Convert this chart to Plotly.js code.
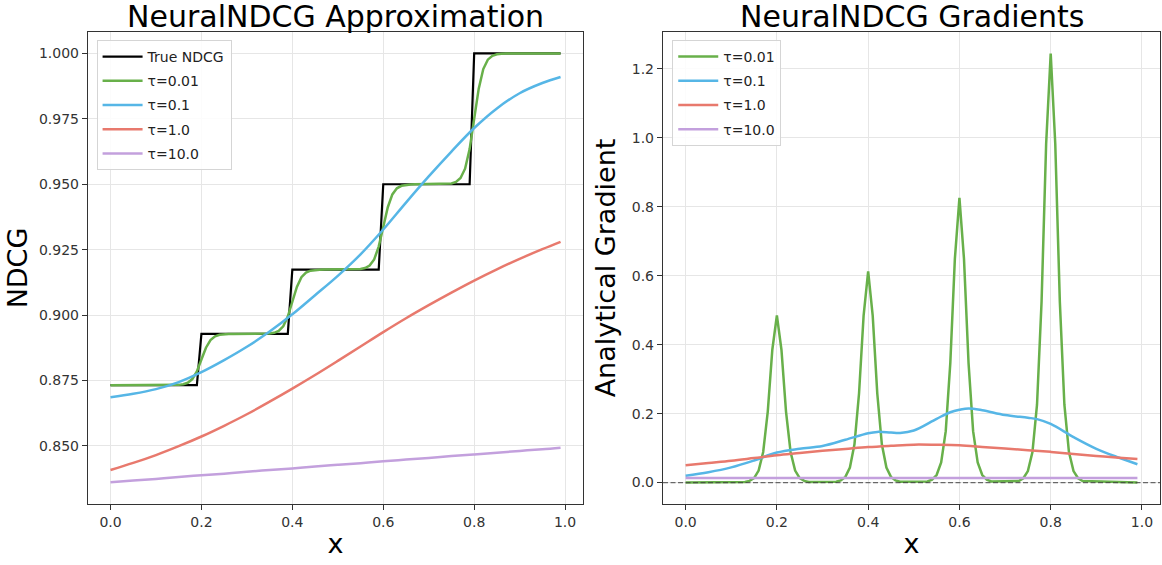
<!DOCTYPE html>
<html>
<head>
<meta charset="utf-8">
<script src="https://cdn.plot.ly/plotly-3.0.1.min.js"></script>
<style>html,body{margin:0;padding:0;background:#fff;}#chart{width:1162px;height:565px;}</style>
</head>
<body>
<div id="chart"></div>
<script>
// ---- data ----
const xTrue = [0, 0.19, 0.20, 0.39, 0.40, 0.59, 0.60, 0.79, 0.80, 0.99];
const ndcgTrue = [0.8732, 0.8732, 0.8928, 0.8928, 0.9174, 0.9174, 0.95, 0.95, 1.0, 1.0];

const xSharp = [0,
  0.13,0.14,0.15,0.16,0.17,0.18,0.19,0.20,0.21,0.22,0.23,0.24,0.25,0.26,0.27,
  0.33,0.34,0.35,0.36,0.37,0.38,0.39,0.40,0.41,0.42,0.43,0.44,0.45,0.46,0.47,
  0.53,0.54,0.55,0.56,0.57,0.58,0.59,0.60,0.61,0.62,0.63,0.64,0.65,0.66,0.67,
  0.73,0.74,0.75,0.76,0.77,0.78,0.79,0.80,0.81,0.82,0.83,0.84,0.85,0.86,0.87,
  0.99];
const ndcgTau001 = [0.8732,
  0.87322,0.87325,0.87333,0.87355,0.87413,0.87554,0.87847,0.8830,0.88753,0.89046,0.89187,0.89245,0.89267,0.89275,0.89278,
  0.89282,0.89286,0.89296,0.89324,0.89397,0.89573,0.89941,0.9051,0.91079,0.91447,0.91623,0.91696,0.91724,0.91734,0.91738,
  0.91743,0.91748,0.91762,0.91799,0.91895,0.92129,0.92617,0.9337,0.94123,0.94611,0.94845,0.94941,0.94978,0.94992,0.94997,
  0.95005,0.95013,0.95034,0.9509,0.95237,0.95596,0.96345,0.975,0.98655,0.99404,0.99763,0.9991,0.99966,0.99988,0.99995,
  1.0];
const gradTau001 = [0,
  0.0018,0.0048,0.0130,0.0346,0.0886,0.2058,0.3854,0.485,0.3854,0.2058,0.0886,0.0346,0.0130,0.0048,0.0018,
  0.0022,0.0061,0.0164,0.0434,0.1111,0.2583,0.4837,0.613,0.4837,0.2583,0.1111,0.0434,0.0164,0.0061,0.0022,
  0.0030,0.0082,0.0219,0.0583,0.1491,0.3465,0.6488,0.826,0.6488,0.3465,0.1491,0.0583,0.0219,0.0082,0.0030,
  0.0046,0.0124,0.0333,0.0883,0.2259,0.5250,0.9831,1.245,0.9831,0.5250,0.2259,0.0883,0.0333,0.0124,0.0046,
  0];

const xSmooth = [0,0.05,0.10,0.15,0.20,0.25,0.30,0.35,0.40,0.45,0.50,0.55,0.60,0.65,0.70,0.75,0.80,0.85,0.90,0.95,0.99];
const ndcgTau01 = [0.8686,0.8699,0.8717,0.8744,0.8782,0.8828,0.8879,0.8937,0.9003,0.9076,0.9150,0.9232,0.9327,0.9430,0.9530,0.9625,0.9715,0.9790,0.9848,0.9887,0.9910];
const ndcgTau1 = [0.8408,0.8435,0.8465,0.8499,0.8536,0.8577,0.8621,0.8669,0.8719,0.8771,0.8825,0.8880,0.8935,0.8988,0.9038,0.9086,0.9132,0.9175,0.9215,0.9252,0.9280];
const ndcgTau10 = [0.8361,0.8368,0.8374,0.8381,0.8388,0.8394,0.8401,0.8408,0.8414,0.8421,0.8428,0.8434,0.8441,0.8448,0.8454,0.8461,0.8467,0.8474,0.8481,0.8487,0.8493];

const xGradBlue = [0,0.05,0.10,0.15,0.20,0.25,0.30,0.35,0.40,0.42,0.45,0.47,0.50,0.55,0.58,0.60,0.62,0.65,0.70,0.75,0.77,0.80,0.85,0.90,0.95,0.99];
const gradTau01 = [0.020,0.030,0.044,0.064,0.087,0.098,0.106,0.124,0.143,0.147,0.145,0.144,0.151,0.185,0.204,0.211,0.215,0.210,0.196,0.188,0.184,0.170,0.132,0.098,0.072,0.053];
const gradTau1 = [0.050,0.0565,0.063,0.071,0.079,0.0855,0.092,0.0975,0.103,0.1068,0.110,0.1095,0.108,0.1035,0.0985,0.094,0.089,0.083,0.077,0.072,0.068];
const gradTau10 = [0.0135,0.0135,0.0135,0.0135,0.0135,0.0135,0.0135,0.0135,0.0135,0.0135,0.0135,0.0135,0.0135,0.0135,0.0135,0.0135,0.0135,0.0135,0.0135,0.0135,0.0135];

const seriesNames = ['True NDCG', 'τ=0.01', 'τ=0.1', 'τ=1.0', 'τ=10.0'];
const xTickVals = [0, 0.2, 0.4, 0.6, 0.8, 1.0];
const yTickVals1 = [0.850, 0.875, 0.900, 0.925, 0.950, 0.975, 1.000];
const yTickVals2 = [0.0, 0.2, 0.4, 0.6, 0.8, 1.0, 1.2];

// ---- styles ----
const C = {black:'#000000', green:'#68b04a', blue:'#56b6e6', red:'#e8796d', purple:'#c3a0dd'};
const FONT = 'DejaVu Sans, Liberation Sans, sans-serif';

function tr(x, y, name, color, ax, lg, smooth, w) {
  return {x:x, y:y, name:name, type:'scatter', mode:'lines',
    xaxis: ax === 1 ? 'x' : 'x2', yaxis: ax === 1 ? 'y' : 'y2',
    legend: lg, showlegend: true, legendgroup: lg + name,
    line:{color:color, width:w || 2.5, shape: smooth ? 'spline' : 'linear', smoothing: 1},
    hoverinfo:'skip'};
}

const data = [
  tr(xTrue, ndcgTrue, seriesNames[0], C.black, 1, 'legend', false, 2.2),
  tr(xSharp, ndcgTau001, seriesNames[1], C.green, 1, 'legend', false),
  tr(xSmooth, ndcgTau01, seriesNames[2], C.blue, 1, 'legend', true),
  tr(xSmooth, ndcgTau1, seriesNames[3], C.red, 1, 'legend', true),
  tr(xSmooth, ndcgTau10, seriesNames[4], C.purple, 1, 'legend', true),
  tr(xSharp, gradTau001, seriesNames[1], C.green, 2, 'legend2', false),
  tr(xGradBlue, gradTau01, seriesNames[2], C.blue, 2, 'legend2', true),
  tr(xSmooth, gradTau1, seriesNames[3], C.red, 2, 'legend2', true),
  tr(xSmooth, gradTau10, seriesNames[4], C.purple, 2, 'legend2', true)
];

function axisBase() {
  return {showline:true, mirror:true, linecolor:'#333', linewidth:1.2,
    ticks:'outside', ticklen:5, tickwidth:1, tickcolor:'#333',
    showgrid:true, gridcolor:'#e6e6e6', gridwidth:1, zeroline:false,
    tickfont:{family:FONT, size:14, color:'#333'}, automargin:false};
}

const TF = {family:FONT, size:27, color:'#000'};
const xa = Object.assign(axisBase(), {domain:[0, 0.4618], range:[-0.0495, 1.0395], tickvals:xTickVals, tickformat:'.1f',
  title:{text:'x', font:TF, standoff:5}});
const xa2 = Object.assign(axisBase(), {domain:[0.5364, 1], range:[-0.0495, 1.0395], tickvals:xTickVals, tickformat:'.1f', anchor:'y2',
  title:{text:'x', font:TF, standoff:5}});
const ya = Object.assign(axisBase(), {range:[0.8278, 1.0082], tickvals:yTickVals1, tickformat:'.3f',
  title:{text:'NDCG', font:TF, standoff:3}});
const ya2 = Object.assign(axisBase(), {range:[-0.06225, 1.3073], tickvals:yTickVals2, tickformat:'.1f', anchor:'x2',
  title:{text:'Analytical Gradient', font:TF, standoff:8}});

const legendBase = {xref:'paper', yref:'paper', xanchor:'left', yanchor:'top',
  bgcolor:'rgba(255,255,255,0.85)', bordercolor:'#d5d5d5', borderwidth:1,
  font:{family:FONT, size:14, color:'#222'}, tracegroupgap:3, itemwidth:40};

const layout = {
  width:1162, height:565,
  margin:{l:88, r:2, t:32, b:61},
  paper_bgcolor:'#fff', plot_bgcolor:'#fff',
  showlegend:true,
  xaxis:xa, yaxis:ya, xaxis2:xa2, yaxis2:ya2,
  legend:Object.assign({}, legendBase, {x:0.008, y:0.983}),
  legend2:Object.assign({}, legendBase, {x:0.545, y:0.983}),
  shapes:[{type:'line', xref:'x2 domain', yref:'y2', x0:0, x1:1, y0:0, y1:0, layer:'above',
    line:{color:'rgba(60,60,60,0.75)', width:1.3, dash:'5px,2.5px'}}],
  annotations:[
    {text:'NeuralNDCG Approximation', xref:'paper', yref:'paper', x:0.2309, y:1, xanchor:'center', yanchor:'bottom', yshift:-4,
      showarrow:false, font:{family:FONT, size:30, color:'#000'}},
    {text:'NeuralNDCG Gradients', xref:'paper', yref:'paper', x:0.7682, y:1, xanchor:'center', yanchor:'bottom', yshift:-4,
      showarrow:false, font:{family:FONT, size:30, color:'#000'}}
  ]
};

Plotly.newPlot('chart', data, layout, {displayModeBar:false, staticPlot:true});
</script>
</body>
</html>
